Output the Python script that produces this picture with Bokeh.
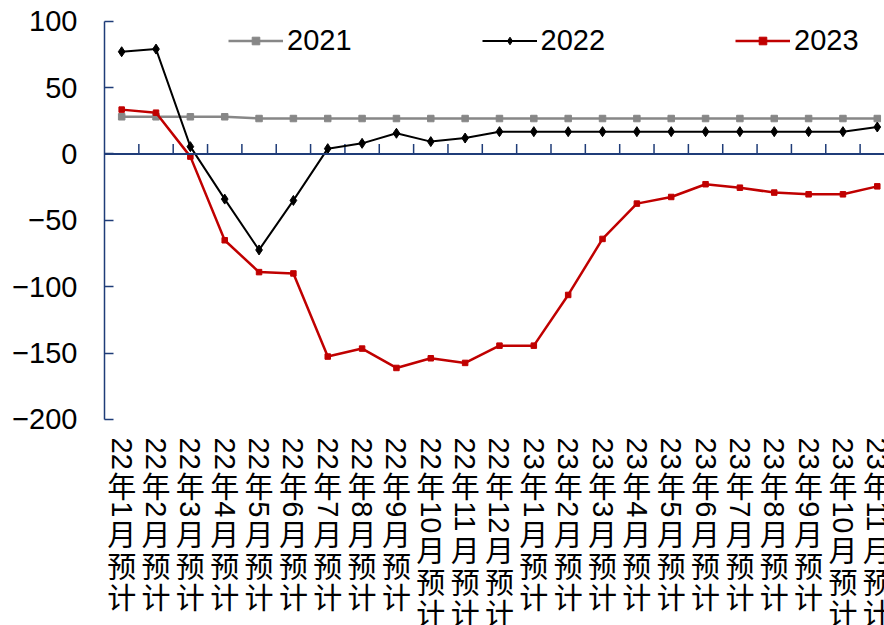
import math
import re

from bokeh.core.properties import value
from bokeh.embed import file_html
from bokeh.models import ColumnDataSource, FixedTicker, Legend, LegendItem, Span
from bokeh.plotting import figure
from bokeh.resources import INLINE

# ---- data -----------------------------------------------------------------
categories = [
    "22年1月预计", "22年2月预计", "22年3月预计", "22年4月预计", "22年5月预计",
    "22年6月预计", "22年7月预计", "22年8月预计", "22年9月预计", "22年10月预计",
    "22年11月预计", "22年12月预计", "23年1月预计", "23年2月预计", "23年3月预计",
    "23年4月预计", "23年5月预计", "23年6月预计", "23年7月预计", "23年8月预计",
    "23年9月预计", "23年10月预计", "23年11月预计",
]
series_2021 = [28, 28, 28, 28, 26.7, 26.7, 26.7, 26.7, 26.7, 26.7, 26.7, 26.7,
               26.7, 26.7, 26.7, 26.7, 26.7, 26.7, 26.7, 26.7, 26.7, 26.7, 26.7]
series_2022 = [77, 79, 5.5, -34, -72.3, -35, 4, 8, 15.6, 9.3, 12, 16.8,
               16.8, 16.8, 16.8, 16.8, 16.8, 16.8, 16.8, 16.8, 16.8, 16.8, 20.3]
series_2023 = [33.4, 31.1, -2, -65, -89, -90, -152.6, -146.6, -161.2, -153.9, -157.4, -144.4,
               -144.4, -106.2, -64, -37.4, -32.4, -22.8, -25.4, -29.1, -30.4, -30.4, -24.4]
y_ticks = [-200, -150, -100, -50, 0, 50, 100]

# ---- geometry / styles ----------------------------------------------------
W, H = 884, 625
LEFT = 104
Y_START, Y_END = -355.2, 115.6
X_START, X_END = -0.5, 22.21
PX_PER_UNIT = H / (Y_END - Y_START)
NAVY = "#1F3C78"
GREY = "#878787"
RED = "#C00000"
LATIN = "Liberation Sans"
CJK = "Noto Sans CJK SC"


def px_to_y(py):
    """Vertical pixel offset from the top of the canvas -> data y."""
    return Y_END - py / PX_PER_UNIT


xs = list(range(len(categories)))

p = figure(
    width=W, height=H,
    x_range=(X_START, X_END), y_range=(Y_START, Y_END),
    x_axis_type=None,
    output_backend="svg", toolbar_location=None,
    min_border_left=LEFT, min_border_right=0, min_border_top=0, min_border_bottom=0,
)
p.outline_line_color = None
p.grid.visible = False
p.background_fill_color = "white"
p.border_fill_color = "white"

# y axis
ax = p.yaxis[0]
ax.ticker = FixedTicker(ticks=y_ticks)
ax.bounds = (-200, 100)
ax.major_label_overrides = {t: (str(t).replace("-", "\u2212")) for t in y_ticks}
ax.axis_line_color = NAVY
ax.axis_line_width = 1.5
ax.major_tick_line_color = NAVY
ax.major_tick_line_width = 1.5
ax.major_tick_in = 9
ax.major_tick_out = 0
ax.minor_tick_line_color = None
ax.major_label_standoff = 27
ax.major_label_text_font = LATIN
ax.major_label_text_font_size = "29px"
ax.major_label_text_color = "black"

# category axis drawn along y = 0
p.add_layout(Span(location=0, dimension="width", line_color=NAVY, line_width=2))
bounds = [i - 0.5 for i in range(1, len(categories) + 1)]
p.segment(x0=bounds, x1=bounds, y0=[0] * len(bounds), y1=[10 / PX_PER_UNIT] * len(bounds),
          line_color=NAVY, line_width=1.5)

# series
r21l = p.line(xs, series_2021, line_color=GREY, line_width=2.5)
r21m = p.scatter(xs, series_2021, marker="square", size=6.5, color=GREY)
r22l = p.line(xs, series_2022, line_color="black", line_width=2)
r22m = p.scatter(xs, series_2022, marker="diamond", size=10, color="black")
r23l = p.line(xs, series_2023, line_color=RED, line_width=2.5)
r23m = p.scatter(xs, series_2023, marker="square", size=5.5, color=RED)

legend = Legend(
    items=[
        LegendItem(label="2021", renderers=[r21l, r21m]),
        LegendItem(label="2022", renderers=[r22l, r22m]),
        LegendItem(label="2023", renderers=[r23l, r23m]),
    ],
    orientation="horizontal",
    location=(124, 568),
    glyph_width=55, glyph_height=19,
    label_standoff=4, label_width=62, label_height=30,
    spacing=130, padding=0, margin=0,
    label_text_font=LATIN, label_text_font_size="29px", label_text_color="black",
    background_fill_alpha=0, border_line_alpha=0,
)
p.add_layout(legend)

# vertical category labels: CJK upright, digit runs turned clockwise
LABEL_TOP = 437
CJK_ADV = 31.5
DIGIT_ADV = 16.1
cjk = dict(x=[], y=[], text=[])
dig = dict(x=[], y=[], text=[])
for i, lab in enumerate(categories):
    cur = LABEL_TOP
    for run in re.findall(r"\d+|\D", lab):
        if run.isdigit():
            dig["x"].append(i)
            dig["y"].append(px_to_y(cur))
            dig["text"].append(run)
            cur += DIGIT_ADV * len(run)
        else:
            cjk["x"].append(i)
            cjk["y"].append(px_to_y(cur + CJK_ADV / 2))
            cjk["text"].append(run)
            cur += CJK_ADV

p.text(x="x", y="y", text="text", source=ColumnDataSource(cjk),
       text_font=value(CJK), text_font_size="29px", text_color="black",
       text_align="center", text_baseline="middle")
p.text(x="x", y="y", text="text", source=ColumnDataSource(dig),
       text_font=value(LATIN), text_font_size="29px", text_color="black",
       text_align="left", text_baseline="middle", angle=-math.pi / 2)

open("out.html", "w").write(file_html(p, INLINE))
